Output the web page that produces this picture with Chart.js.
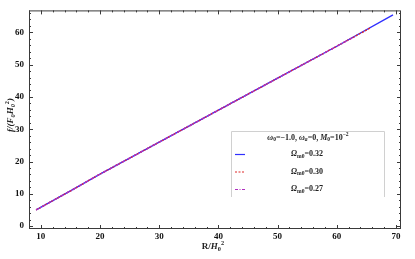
<!DOCTYPE html>
<html>
<head>
<meta charset="utf-8">
<script src="https://cdn.jsdelivr.net/npm/chart.js@4.4.0/dist/chart.umd.min.js"></script>
<style>
  html, body { margin: 0; padding: 0; background: #fff; }
</style>
</head>
<body>
<canvas id="chart" width="415" height="259"></canvas>
<script>
// values
const R032 = [9.2, 15, 20, 30, 40, 50, 60, 69.5]
const f032 = [5.0, 10.9, 16.1, 26.0, 35.9, 45.8, 55.7, 65.4]
const R030 = [9.2, 15, 20, 30, 40, 50, 60, 65.8]
const f030 = [5.0, 10.9, 16.1, 26.0, 35.9, 45.8, 55.7, 61.5]
const R027 = [9.2, 15, 20, 30, 40, 50, 60, 63.0]
const f027 = [5.0, 10.9, 16.1, 26.0, 35.9, 45.8, 55.7, 58.7]

const xTicks = [10, 20, 30, 40, 50, 60, 70]
const yTicks = [0, 10, 20, 30, 40, 50, 60]

const serif = '"Liberation Serif", "DejaVu Serif", serif'

function pts(xs, ys) {
    return xs.map((x, i) => ({ x: x, y: ys[i] }))
}

// small helper for text with sub/superscripts
function richWidth(ctx, segs, size) {
    let w = 0
    segs.forEach(s => {
        const sz = (s.sub || s.sup) ? size * 0.7 : size
        ctx.font = (s.it ? 'italic ' : '') + 'bold ' + sz + 'px ' + serif
        w += ctx.measureText(s.t).width
    })
    return w
}
function richText(ctx, segs, size, cx, cy) {
    let x = cx - richWidth(ctx, segs, size) / 2
    ctx.textBaseline = 'middle'
    ctx.textAlign = 'left'
    segs.forEach(s => {
        const sz = (s.sub || s.sup) ? size * 0.7 : size
        const dy = s.sub ? size * 0.3 : (s.sup ? -size * 0.4 : 0)
        ctx.font = (s.it ? 'italic ' : '') + 'bold ' + sz + 'px ' + serif
        ctx.fillText(s.t, x, cy + dy)
        x += ctx.measureText(s.t).width
    })
}

const framePlugin = {
    id: 'frame',
    afterDatasetsDraw(chart) {
        const ctx = chart.ctx
        const a = chart.chartArea
        const xs = chart.scales.x, ys = chart.scales.y
        ctx.save()
        ctx.strokeStyle = '#3a3a3a'
        ctx.lineWidth = 1
        ctx.strokeRect(a.left + 0.5, a.top + 0.5, a.right - a.left - 1, a.bottom - a.top - 1)
        // ticks on all four sides, pointing inward
        for (let v = 8; v <= 70; v += 2) {
            const len = v % 10 === 0 ? 4 : 2
            const px = Math.round(xs.getPixelForValue(v)) + 0.5
            ctx.beginPath()
            ctx.moveTo(px, a.bottom); ctx.lineTo(px, a.bottom - len)
            ctx.moveTo(px, a.top); ctx.lineTo(px, a.top + len)
            ctx.stroke()
        }
        for (let v = 0; v <= 66; v += 2) {
            const len = v % 10 === 0 ? 4 : 2
            const py = Math.round(ys.getPixelForValue(v)) + 0.5
            ctx.beginPath()
            ctx.moveTo(a.left, py); ctx.lineTo(a.left + len, py)
            ctx.moveTo(a.right, py); ctx.lineTo(a.right - len, py)
            ctx.stroke()
        }

        // axis titles
        ctx.fillStyle = '#222'
        richText(ctx, [{ t: 'R/' }, { t: 'H', it: true }, { t: '0', sub: true }, { t: '2', sup: true }], 9, 213, 247)
        ctx.save()
        ctx.translate(11, 115)
        ctx.rotate(-Math.PI / 2)
        richText(ctx, [{ t: 'f/(F', it: true }, { t: '0', sub: true, it: true }, { t: 'H', it: true },
            { t: '0', sub: true, it: true }, { t: '2', sup: true }, { t: ')', it: true }], 9, 0, 0)
        ctx.restore()

        // legend box
        const L = 231, T = 131, Rt = 385, B = 197
        ctx.fillStyle = '#fff'
        ctx.fillRect(L, T, Rt - L, B - T)
        ctx.strokeStyle = '#d0d0d0'
        ctx.beginPath()
        ctx.moveTo(L + 0.5, B); ctx.lineTo(L + 0.5, T + 0.5); ctx.lineTo(Rt - 0.5, T + 0.5); ctx.lineTo(Rt - 0.5, B)
        ctx.stroke()
        ctx.fillStyle = '#222'
        richText(ctx, [{ t: 'ω', it: true }, { t: '0', sub: true }, { t: '=−1.0, ' }, { t: 'ω', it: true }, { t: 'a', sub: true, it: true },
            { t: '=0, ' }, { t: 'M', it: true }, { t: '0', sub: true }, { t: '=10' }, { t: '−2', sup: true }], 8, 308, 137.5)
        const rows = [154, 171.5, 189]
        chart.data.datasets.forEach((ds, i) => {
            ctx.strokeStyle = ds.borderColor
            ctx.lineWidth = 1.2
            ctx.setLineDash(ds.borderDash || [])
            ctx.beginPath()
            ctx.moveTo(235, rows[i] + 0.5); ctx.lineTo(245, rows[i] + 0.5)
            ctx.stroke()
            ctx.setLineDash([])
            ctx.fillStyle = '#222'
            richText(ctx, [{ t: 'Ω', it: true }, { t: 'm0', sub: true }, { t: '=' + ds.label }], 8, 307, rows[i])
        })
        ctx.restore()
    }
}

new Chart(document.getElementById('chart'), {
    type: 'line',
    data: {
        datasets: [
            { label: '0.32', data: pts(R032, f032), borderColor: '#3030ff', borderWidth: 1.4, order: 3 },
            { label: '0.30', data: pts(R030, f030), borderColor: '#e02828', borderWidth: 1.4, borderDash: [2, 1.5], order: 2 },
            { label: '0.27', data: pts(R027, f027), borderColor: '#b030c0', borderWidth: 1.4, borderDash: [3, 1.5, 1, 1.5], order: 1 }
        ]
    },
    options: {
        responsive: false,
        animation: false,
        layout: { padding: { top: 1, right: 14, left: 0, bottom: 0 } },
        elements: { point: { radius: 0 }, line: { tension: 0 } },
        plugins: { legend: { display: false }, tooltip: { enabled: false } },
        scales: {
            x: {
                type: 'linear', min: 8, max: 70.85,
                afterFit: s => { s.height = 30 },
                afterBuildTicks: s => { s.ticks = xTicks.map(v => ({ value: v })) },
                grid: { display: false, drawTicks: false },
                border: { display: false },
                ticks: { padding: 2, color: '#111', font: { family: serif, size: 9, weight: 'bold' }, maxRotation: 0 }
            },
            y: {
                type: 'linear', min: -0.9, max: 66.8,
                afterFit: s => { s.width = 29 },
                afterBuildTicks: s => { s.ticks = yTicks.map(v => ({ value: v })) },
                grid: { display: false, drawTicks: false },
                border: { display: false },
                ticks: { padding: 5, color: '#111', font: { family: serif, size: 9, weight: 'bold' } }
            }
        }
    },
    plugins: [framePlugin]
});
</script>
</body>
</html>
